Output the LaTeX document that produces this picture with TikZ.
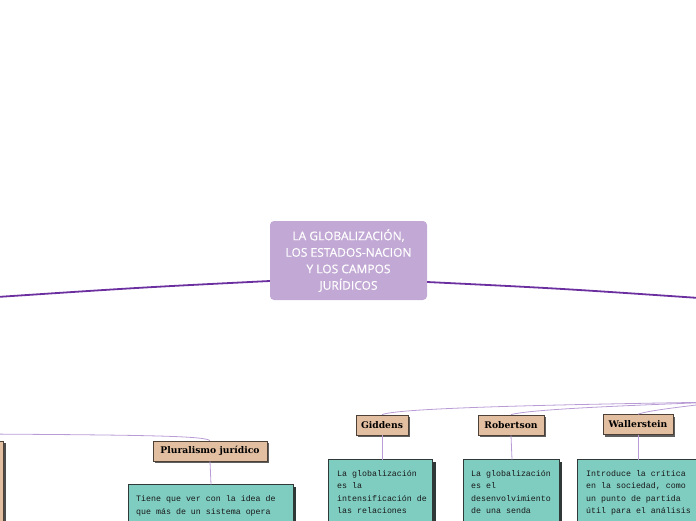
\documentclass[tikz,border=0pt]{standalone}
\usepackage{fontspec}
\setmainfont{DejaVu Serif}
\newfontfamily\titlefont{Open Sans}[FakeBold=0.5]
\newfontfamily\notefont{Liberation Mono}
\newfontfamily\topicfont{DejaVu Serif}
\definecolor{mainline}{HTML}{6B2F9F}
\definecolor{titlefill}{HTML}{C2A8D4}
\definecolor{subline}{HTML}{B99CD6}
\definecolor{tanfill}{HTML}{E3BFA1}
\definecolor{tanborder}{HTML}{4D4036}
\definecolor{tealfill}{HTML}{7FCDC1}
\definecolor{tealborder}{HTML}{2F3A38}
\usetikzlibrary{shadows}
\tikzset{
  titlebox/.style={fill=titlefill, rounded corners=4pt, text=white, align=center,
    minimum width=157pt, minimum height=79pt, inner sep=0pt,
    font=\titlefont\fontsize{12}{16.5}\selectfont},
  mainconn/.style={draw=mainline, line width=1.8pt},
  subconn/.style={draw=subline, line width=0.8pt},
  topicbox/.style={fill=tanfill, draw=tanborder, line width=0.7pt, inner sep=0pt,
    minimum height=20pt, font=\topicfont\bfseries\fontsize{9.2}{10}\selectfont,
    drop shadow={shadow xshift=2pt, shadow yshift=-2pt, fill=black!70, opacity=0.9}},
  notebox/.style={fill=tealfill, draw=tealborder, line width=0.6pt},
  noteshadow/.style={fill=tealborder},
  notetext/.style={anchor=north west, inner sep=0pt, align=left, text=black!90,
    font=\notefont\fontsize{8.3}{12.5}\selectfont}
}
\begin{document}
\begin{tikzpicture}[x=1pt,y=-1pt]
\useasboundingbox (0,0) rectangle (696,520);
\clip (0,0) rectangle (696,520);

% central topic
\node[titlebox] (c) at (348.5,260.5) {LA GLOBALIZACIÓN,\\LOS ESTADOS-NACION\\Y LOS CAMPOS\\JURÍDICOS};
\coordinate (mL) at (-12,297.6);
\coordinate (mR) at (708,298.6);
\draw[mainconn] ([yshift=-20.5pt]c.west) .. controls (140,287.5) .. (mL);
\draw[mainconn] ([yshift=-21.5pt]c.east) .. controls (560,288.5) .. (mR);

% left branch subtopics
\coordinate (lsrc) at (-20,434);
\node[topicbox, minimum width=114pt] (plur) at (210,451) {Pluralismo jurídico};
\draw[subconn] (lsrc) .. controls (150,435) and (205,436) .. (plur.north);
% left off-screen topic
\draw[fill=black!70, draw=none] (-60,443) rectangle (6,600);
\draw[fill=tanfill, draw=tanborder, line width=0.7pt] (-62,441) rectangle (3.5,600);
\coordinate (plurnoteTop) at (211,484.5);
\fill[noteshadow] (131,487) rectangle (296,560);
\draw[notebox] (128.5,484.5) rectangle (293,560);
\draw[subconn] (plur.south) -- (plurnoteTop);
\node[notetext] (plurt) at (136,495.5) {Tiene que ver con la idea de\\que más de un sistema opera};

% right branch subtopics
\coordinate (rsrc) at (720,402);
\node[topicbox, minimum width=52pt] (gid) at (382,425) {Giddens};
\node[topicbox, minimum width=66pt] (rob) at (511,425) {Robertson};
\node[topicbox, minimum width=70pt] (wal) at (638,424.5) {Wallerstein};
\draw[subconn] (rsrc) .. controls (600,404) and (400,407) .. (gid.north);
\draw[subconn] (rsrc) .. controls (640,405) and (530,409) .. (rob.north);
\draw[subconn] (rsrc) .. controls (690,406) and (650,410) .. (wal.north);

% notes
\coordinate (gidTop) at (382,459.5);
\fill[noteshadow] (331,462) rectangle (435.5,560);
\draw[notebox] (328.5,459.5) rectangle (432.5,560);
\draw[subconn] (gid.south) -- (gidTop);
\node[notetext] (gidt) at (337,469.8) {La globalización\\es la\\intensificación de\\las relaciones};

\coordinate (robTop) at (512,459.5);
\fill[noteshadow] (466,462) rectangle (562,560);
\draw[notebox] (463.5,459.5) rectangle (559.5,560);
\draw[subconn] (rob.south) -- (robTop);
\node[notetext] (robt) at (471,469.8) {La globalización\\es el\\desenvolvimiento\\de una senda};

\coordinate (walTop) at (638,459.5);
\fill[noteshadow] (580,462) rectangle (760,560);
\draw[notebox] (577.5,459.5) rectangle (757,560);
\draw[subconn] (wal.south) -- (walTop);
\node[notetext] (walt) at (586,469.8) {Introduce la crítica\\en la sociedad, como\\un punto de partida\\útil para el análisis};
\end{tikzpicture}
\end{document}
